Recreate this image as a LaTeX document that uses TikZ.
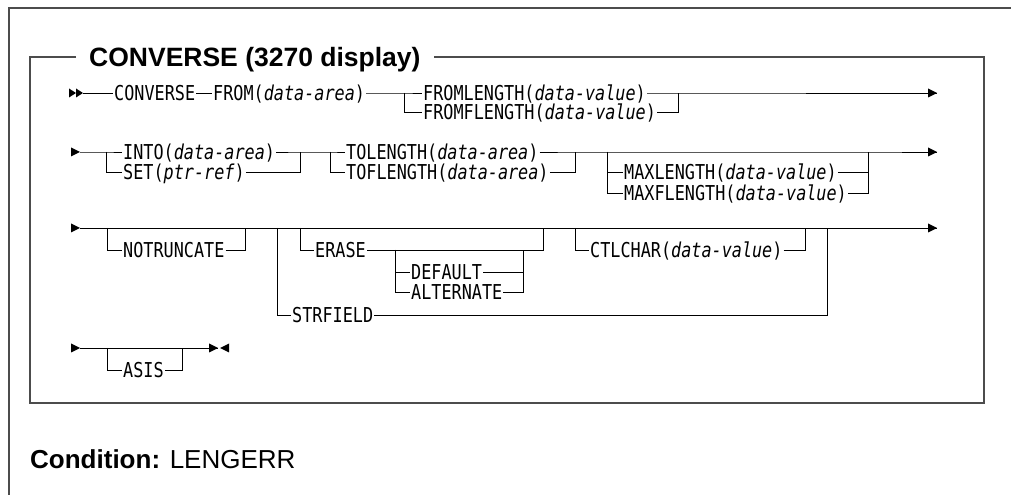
\documentclass[tikz,border=0pt]{standalone}
\usepackage{fontspec}
\setmainfont{Liberation Sans}
\newfontfamily\synfont[FakeStretch=0.82]{DejaVu Sans Mono}

\tikzset{
    kw/.style={anchor=west, inner xsep=1bp, inner ysep=0pt, text height=19bp, text depth=4.2bp,
        font=\synfont\fontsize{20.5bp}{24bp}\selectfont},
    title/.style={anchor=west, inner xsep=13bp, inner ysep=0pt, text height=22.4bp, text depth=3.4bp,
        font=\bfseries\fontsize{26.5bp}{30bp}\selectfont},
    cond/.style={anchor=base west, inner sep=0pt, font=\fontsize{26bp}{30bp}\selectfont},
    rail/.style={line width=0.9bp},
    border/.style={line width=1.4bp, black!70},
}
\newcommand{\var}[1]{\textit{#1}}
\newcommand{\railR}[1]{\fill (#1) -- ++(-9,-4.5) -- ++(0,9) -- cycle;}
\newcommand{\railL}[1]{\fill (#1) -- ++(9,-4.5) -- ++(0,9) -- cycle;}

\begin{document}
\begin{tikzpicture}[x=1bp, y=-1bp]
    \useasboundingbox (0,0) rectangle (1011,495);

    \draw[border] (9,495) -- (9,8) -- (1011,8);
    \draw (76,57) node [title] (ttl) {CONVERSE (3270 display)};
    \draw[border] (ttl.west) -- (30,57) -- (30,403) -- (984,403) -- (984,57) -- (ttl.east);
    \draw (30,468) node [cond] (cnd) {\textbf{Condition:} LENGERR};

    % row 1
    \fill (76,93) -- ++(-7,-4.5) -- ++(0,9) -- cycle;
    \fill (83,93) -- ++(-7,-4.5) -- ++(0,9) -- cycle;
    \coordinate (s1) at (83,93);
    \draw (113,93) node [kw] (conv) {CONVERSE};
    \draw (212,93) node [kw] (from) {FROM(\var{data-area})};
    \coordinate (j1a) at (404,93);
    \draw (422,93) node [kw] (flen) {FROMLENGTH(\var{data-value})};
    \draw (422,112) node [kw] (fflen) {FROMFLENGTH(\var{data-value})};
    \coordinate (j1b) at (678,93);
    \coordinate (e1) at (937,93);

    \draw[rail] (s1) -- (conv.west);
    \draw[rail] (conv.east) -- (from.west);
    \draw[rail] (from.east) -- (j1a) -- (flen.west);
    \draw[rail] (j1a) |- (fflen.west);
    \draw[rail] (flen.east) -- (j1b) -- (e1);
    \draw[rail] (fflen.east) -| (j1b);
    \railR{e1}

    % row 2
    \coordinate (s2) at (80,152);
    \railR{s2}
    \coordinate (j2a) at (106,152);
    \draw (122,152) node [kw] (into) {INTO(\var{data-area})};
    \draw (122,172) node [kw] (set) {SET(\var{ptr-ref})};
    \coordinate (j2b) at (300,152);
    \coordinate (j2c) at (330,152);
    \draw (345,152) node [kw] (tolen) {TOLENGTH(\var{data-area})};
    \draw (345,172) node [kw] (toflen) {TOFLENGTH(\var{data-area})};
    \coordinate (j2d) at (575,152);
    \coordinate (j2e) at (607,152);
    \draw (623,172) node [kw] (maxl) {MAXLENGTH(\var{data-value})};
    \draw (623,193) node [kw] (maxfl) {MAXFLENGTH(\var{data-value})};
    \coordinate (j2f) at (868,152);
    \coordinate (e2) at (937,152);

    \draw[rail] (s2) -- (j2a) -- (into.west);
    \draw[rail] (j2a) |- (set.west);
    \draw[rail] (into.east) -- (j2b) -- (j2c) -- (tolen.west);
    \draw[rail] (set.east) -| (j2b);
    \draw[rail] (j2c) |- (toflen.west);
    \draw[rail] (tolen.east) -- (j2d) -- (j2e) -- (j2f) -- (e2);
    \draw[rail] (toflen.east) -| (j2d);
    \draw[rail] (j2e) |- (maxl.west);
    \draw[rail] (j2e) |- (maxfl.west);
    \draw[rail] (maxl.east) -| (j2f);
    \draw[rail] (maxfl.east) -| (j2f);
    \railR{e2}

    % row 3
    \coordinate (s3) at (80,228);
    \coordinate (e3) at (937,228);
    \railR{s3}
    \coordinate (j3a) at (107,228);
    \draw (122,250) node [kw] (notr) {NOTRUNCATE};
    \coordinate (j3b) at (245,228);
    \coordinate (j3c) at (277,228);
    \coordinate (j3d) at (300,228);
    \draw (314,250) node [kw] (erase) {ERASE};
    \coordinate (j3f) at (395,250);
    \draw (410,272) node [kw] (dflt) {DEFAULT};
    \draw (410,292) node [kw] (alt) {ALTERNATE};
    \coordinate (j3g) at (523,250);
    \coordinate (j3e) at (543,228);
    \draw (291,315) node [kw] (strf) {STRFIELD};
    \coordinate (j3i) at (575,228);
    \draw (589,250) node [kw] (ctl) {CTLCHAR(\var{data-value})};
    \coordinate (j3j) at (805,228);
    \coordinate (j3h) at (827,228);

    \draw[rail] (s3) -- (e3);
    \draw[rail] (j3a) |- (notr.west);
    \draw[rail] (notr.east) -| (j3b);
    \draw[rail] (j3c) |- (strf.west);
    \draw[rail] (strf.east) -| (j3h);
    \draw[rail] (j3d) |- (erase.west);
    \draw[rail] (erase.east) -| (j3e);
    \draw[rail] (j3f) |- (dflt.west);
    \draw[rail] (j3f) |- (alt.west);
    \draw[rail] (dflt.east) -| (j3g);
    \draw[rail] (alt.east) -| (j3g);
    \draw[rail] (j3i) |- (ctl.west);
    \draw[rail] (ctl.east) -| (j3j);
    \railR{e3}

    % row 4
    \coordinate (s4) at (80,348);
    \coordinate (e4) at (218,348);
    \railR{s4}
    \coordinate (j4a) at (107,348);
    \draw (122,370) node [kw] (asis) {ASIS};
    \coordinate (j4b) at (182,348);

    \draw[rail] (s4) -- (e4);
    \draw[rail] (j4a) |- (asis.west);
    \draw[rail] (asis.east) -| (j4b);
    \railR{e4}
    \railL{220,348}
\end{tikzpicture}
\end{document}
